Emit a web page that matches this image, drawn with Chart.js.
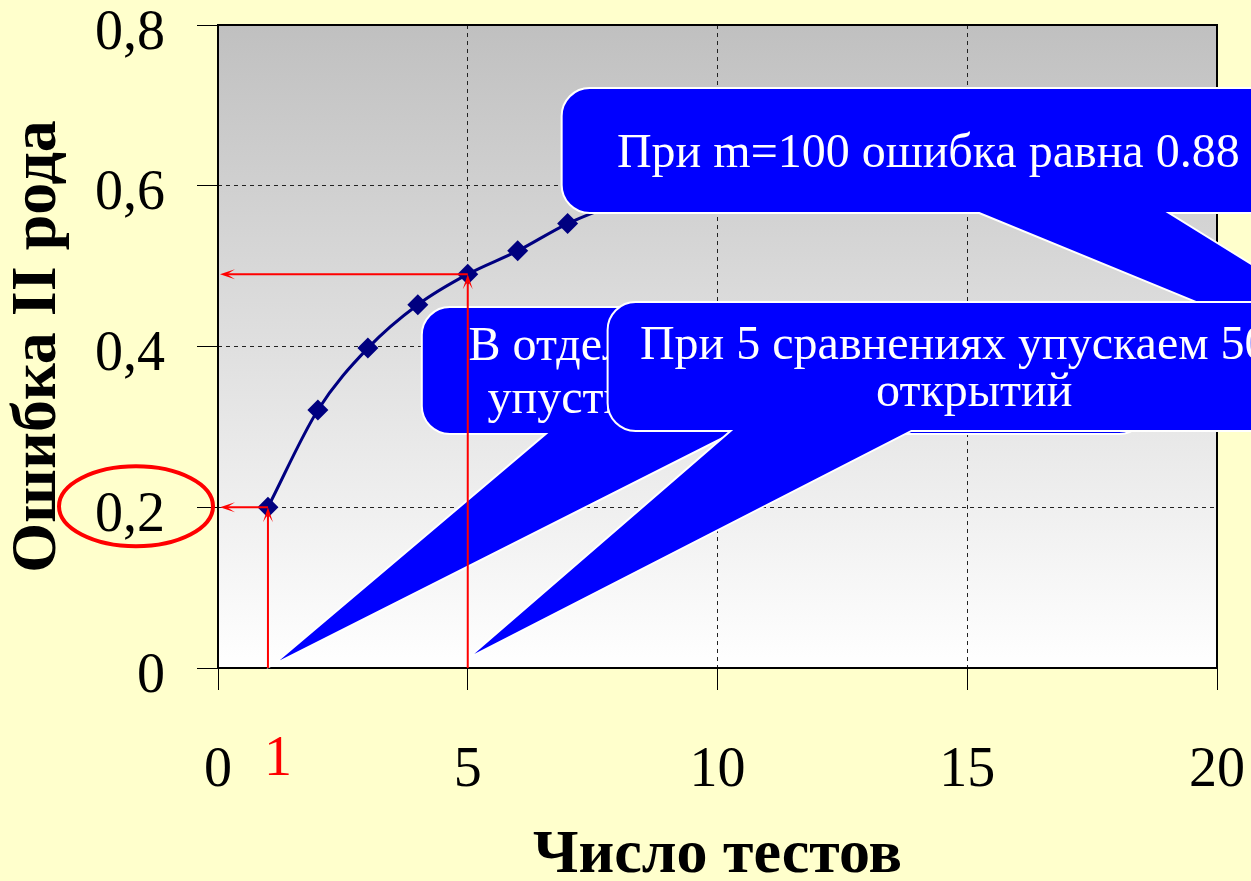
<!DOCTYPE html>
<html>
<head>
<meta charset="utf-8">
<script src="https://cdn.jsdelivr.net/npm/chart.js@4.4.1/dist/chart.umd.min.js"></script>
<style>
  html, body { margin: 0; padding: 0; background: #ffffcc; }
  #wrap { width: 1251px; height: 881px; position: relative; }
</style>
</head>
<body>
<div id="wrap"><canvas id="chart"></canvas></div>
<script>
// data
var tests = [1, 2, 3, 4, 5, 6, 7, 8, 9, 10];
var errorII = [0.2, 0.321, 0.398, 0.452, 0.49, 0.519, 0.553, 0.578, 0.6, 0.62];
var xTicks = [0, 5, 10, 15, 20];
var yTickLabels = ["0", "0,2", "0,4", "0,6", "0,8"];
var markedTests = [1, 5];

// speech bubbles, placed in axis units (box + tail base on bottom edge + tail tip)
var callouts = [
    { lines: ["При m=100 ошибка равна 0.88"], lh: 0,
      box: [6.88, 21.56, 0.7216, 0.5661], base: [15.24, 19.04], tip: [26.46, 0.28] },
    { lines: ["В отдельном сравнении можно", "упустить 20% всех открытий"], lh: 53,
      box: [4.08, 18.6, 0.4491, 0.2911], base: [6.56, 10.26], tip: [1.1, 0.004] },
    { lines: ["При 5 сравнениях упускаем 50%", "открытий"], lh: 47,
      box: [7.8, 22.48, 0.4554, 0.2949], base: [10.26, 13.88], tip: [5.0, 0.012] }
];

var SERIF = "'Liberation Serif', 'Times New Roman', serif";

function calloutPath(c, l, r, t, b, bl, br, tx, ty, rad) {
    c.beginPath();
    c.moveTo(l + rad, t);
    c.lineTo(r - rad, t);
    c.arcTo(r, t, r, t + rad, rad);
    c.lineTo(r, b - rad);
    c.arcTo(r, b, r - rad, b, rad);
    c.lineTo(br, b);
    c.lineTo(tx, ty);
    c.lineTo(bl, b);
    c.lineTo(l + rad, b);
    c.arcTo(l, b, l, b - rad, rad);
    c.lineTo(l, t + rad);
    c.arcTo(l, t, l + rad, t, rad);
    c.closePath();
}

function arrow(c, x1, y1, x2, y2) {
    var ang = Math.atan2(y2 - y1, x2 - x1);
    c.beginPath();
    c.moveTo(x1, y1);
    c.lineTo(x2 - Math.cos(ang) * 6, y2 - Math.sin(ang) * 6);
    c.stroke();
    c.save();
    c.translate(x2, y2);
    c.rotate(ang);
    c.beginPath();
    c.moveTo(0, 0);
    c.lineTo(-15, -5);
    c.lineTo(-7, 0);
    c.lineTo(-15, 5);
    c.closePath();
    c.fill();
    c.restore();
}

var slidePlugin = {
    id: "slide",
    beforeDraw: function (chart) {
        var a = chart.chartArea, c = chart.ctx;
        var g = c.createLinearGradient(0, a.top, 0, a.bottom);
        g.addColorStop(0, "#c0c0c0");
        g.addColorStop(1, "#ffffff");
        c.save();
        c.fillStyle = g;
        c.fillRect(a.left, a.top, a.right - a.left, a.bottom - a.top);
        c.restore();
    },
    beforeDatasetsDraw: function (chart) {
        var a = chart.chartArea, c = chart.ctx;
        c.save();
        c.strokeStyle = "#000";
        c.lineWidth = 2;
        c.strokeRect(a.left, a.top, a.right - a.left, a.bottom - a.top);
        c.restore();
    },
    afterDatasetsDraw: function (chart) {
        var c = chart.ctx, xs = chart.scales.x, ys = chart.scales.y, a = chart.chartArea;
        c.save();
        // bubbles
        callouts.forEach(function (co) {
            var l = xs.getPixelForValue(co.box[0]), r = xs.getPixelForValue(co.box[1]);
            var t = ys.getPixelForValue(co.box[2]), b = ys.getPixelForValue(co.box[3]);
            calloutPath(c, l, r, t, b,
                xs.getPixelForValue(co.base[0]), xs.getPixelForValue(co.base[1]),
                xs.getPixelForValue(co.tip[0]), ys.getPixelForValue(co.tip[1]), 28);
            c.fillStyle = "#0000ff";
            c.fill();
            c.strokeStyle = "#ffffff";
            c.lineWidth = 2;
            c.stroke();
            c.fillStyle = "#ffffff";
            c.font = "48px " + SERIF;
            c.textAlign = "center";
            c.textBaseline = "alphabetic";
            var cx = (l + r) / 2, cy = (t + b) / 2;
            var b0 = cy + 16 - (co.lines.length - 1) * co.lh / 2;
            co.lines.forEach(function (s, i) { c.fillText(s, cx, b0 + i * co.lh); });
        });
        // red guide arrows to the axes
        c.strokeStyle = "#ff0000";
        c.fillStyle = "#ff0000";
        c.lineWidth = 2;
        markedTests.forEach(function (m) {
            var v = errorII[tests.indexOf(m)];
            var x = xs.getPixelForValue(m), y = ys.getPixelForValue(v);
            arrow(c, x, a.bottom, x, y);
            arrow(c, x, y, a.left + 2, y);
        });
        // ellipse round the 0,2 label
        var ey = ys.getPixelForValue(errorII[tests.indexOf(markedTests[0])]);
        c.lineWidth = 4;
        c.beginPath();
        c.ellipse(a.left - 82, ey - 1, 77, 40, 0, 0, Math.PI * 2);
        c.stroke();
        // red "1" under the axis
        c.font = "56px " + SERIF;
        c.textAlign = "center";
        c.textBaseline = "middle";
        c.fillText(String(markedTests[0]), xs.getPixelForValue(markedTests[0]) + 10, a.bottom + 92);
        c.restore();
    }
};

var points = tests.map(function (t, i) { return { x: t, y: errorII[i] }; });

new Chart(document.getElementById("chart"), {
    type: "line",
    data: {
        datasets: [{
            data: points,
            borderColor: "#000080",
            borderWidth: 3,
            backgroundColor: "#000080",
            pointStyle: "rectRot",
            pointRadius: 10.5,
            pointBorderWidth: 0,
            pointBackgroundColor: "#000080",
            cubicInterpolationMode: "monotone",
            fill: false
        }]
    },
    options: {
        responsive: true,
        maintainAspectRatio: false,
        animation: false,
        events: [],
        layout: { padding: { top: 25, right: 34, left: 0, bottom: 0 } },
        plugins: { legend: { display: false }, tooltip: { enabled: false } },
        scales: {
            x: {
                type: "linear",
                min: 0,
                max: 20,
                afterBuildTicks: function (s) { s.ticks = xTicks.map(function (v) { return { value: v }; }); },
                afterFit: function (s) { s.height = 213; s.paddingLeft = 0; s.paddingRight = 0; },
                grid: { color: "#222", lineWidth: 1, tickLength: 22, tickColor: "#000", tickBorderDash: [] },
                border: { display: false, dash: [4, 4] },
                ticks: {
                    color: "#000",
                    font: { family: SERIF, size: 56 },
                    padding: 48,
                    maxRotation: 0,
                    autoSkip: false
                },
                title: {
                    display: true,
                    text: "Число тестов",
                    color: "#000",
                    font: { family: SERIF, size: 62, weight: "bold", lineHeight: 0.8 },
                    padding: { top: 0, bottom: 0 }
                }
            },
            y: {
                min: 0,
                max: 0.8,
                afterBuildTicks: function (s) { s.ticks = yTickLabels.map(function (v, i) { return { value: i * 0.2 }; }); },
                afterFit: function (s) { s.width = 218; s.paddingTop = 0; s.paddingBottom = 0; },
                grid: { color: "#222", lineWidth: 1, tickLength: 21, tickColor: "#000", tickBorderDash: [] },
                border: { display: false, dash: [4, 4] },
                ticks: {
                    color: "#000",
                    font: { family: SERIF, size: 56 },
                    padding: 32,
                    labelOffset: 9,
                    callback: function (v, i) { return yTickLabels[i]; }
                },
                title: {
                    display: true,
                    text: "Ошибка II рода",
                    color: "#000",
                    font: { family: SERIF, size: 64, weight: "bold", lineHeight: 1.2 },
                    padding: { top: 0, bottom: 0 }
                }
            }
        }
    },
    plugins: [slidePlugin]
});
</script>
</body>
</html>
